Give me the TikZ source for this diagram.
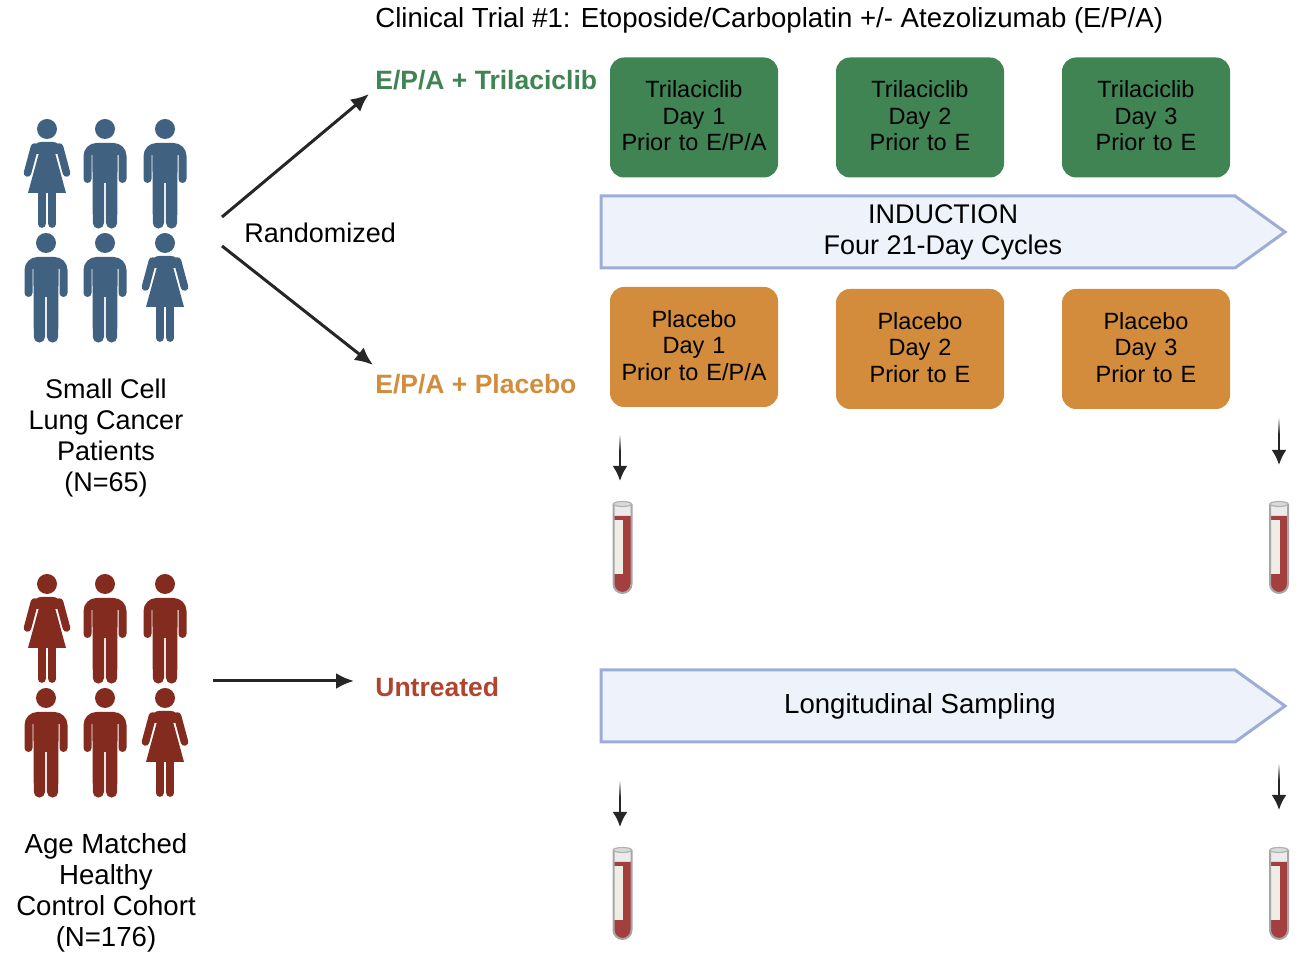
\documentclass[tikz,border=0pt]{standalone}
\usepackage{fontspec}
\setmainfont{Liberation Sans}
\usetikzlibrary{arrows.meta}
\definecolor{trilagreen}{HTML}{408454}
\definecolor{placeboorange}{HTML}{D28C3B}
\definecolor{patientblue}{HTML}{416180}
\definecolor{healthyred}{HTML}{832B1E}
\definecolor{untreatedred}{HTML}{B0442F}
\definecolor{phasefill}{HTML}{EEF3FB}
\definecolor{phaseline}{HTML}{9DADD6}
\definecolor{blooddark}{HTML}{A3403F}
\definecolor{tubelabel}{HTML}{EEEEE6}
\tikzset{
  trialbox/.style={rounded corners=7pt,minimum width=84pt,minimum height=60pt,
    text width=82pt,align=center,font=\fontsize{11.75}{13.25}\selectfont,inner sep=0pt,
    execute at end node={\par\vspace{1.5pt}}},
  greenbox/.style={trialbox,fill=trilagreen},
  orangebox/.style={trialbox,fill=placeboorange},
  phase/.style={draw=phaseline,fill=phasefill,line width=1.5pt},
  plain/.style={align=center,inner sep=0pt,font=\fontsize{13.5}{15.5}\selectfont},
  widetext/.style={align=center,inner sep=0pt,font=\fontsize{13.8}{15.5}\selectfont},
  armlabel/.style={anchor=west,inner sep=0pt,font=\fontsize{13.25}{15.5}\selectfont\bfseries},
  thinarrow/.style={-{Latex[length=9pt,width=8pt]},line width=1.5pt,draw=black!85},
  downarrow/.style={-{Latex[length=7.5pt,width=7.5pt]},line width=1.3pt,draw=black!85},
  pics/fadestem/.style={code={
    \shade[top color=white,bottom color=black!85] (-0.75,1) rectangle (0.75,-16);
    \fill[white] (-1.5,1) rectangle (1.5,2);
  }},
  pics/malefig/.style={code={
    \fill[#1] (0,0) circle [radius=10];
    \fill[#1] (-21.5,-27) arc [start angle=180,end angle=90,radius=13] -- (8.5,-14)
      arc [start angle=90,end angle=0,radius=13] -- (21.5,-50)
      arc [start angle=0,end angle=-180,radius=4] -- (13.5,-26) -- (12.6,-26) -- (12.2,-94)
      arc [start angle=0,end angle=-180,radius=5.6] -- (0.8,-54) -- (-0.8,-54) -- (-1,-94)
      arc [start angle=0,end angle=-180,radius=5.6] -- (-12.6,-26) -- (-13.5,-26) -- (-13.5,-50)
      arc [start angle=0,end angle=-180,radius=4] -- cycle;
  }},
  pics/femalefig/.style={code={
    \fill[#1] (0,0) circle [radius=10];
    \fill[#1,rounded corners=3pt] (-15.5,-25) -- (-12,-13) -- (12,-13) -- (15.5,-25) -- cycle;
    \fill[#1] (-19,-64) -- (-7.5,-22) -- (7.5,-22) -- (19,-64) -- cycle;
    \fill[#1] (-9,-64) rectangle (-1.2,-95);
    \fill[#1] (1.2,-64) rectangle (9,-95);
    \fill[#1] (-5.1,-95) circle [radius=3.9];
    \fill[#1] (5.1,-95) circle [radius=3.9];
    \draw[#1,line width=3.8pt,line cap=round] (-12.5,-18) -- (-19.5,-44);
    \draw[#1,line width=3.8pt,line cap=round] (12.5,-18) -- (19.5,-44);
  }},
  pics/bloodtube/.style={code={
    \fill[black!8] (-9,-3) rectangle (9,-16);
    \fill[blooddark] (-8.5,-15) -- (-8.5,-83) arc [start angle=180,end angle=360,radius=8.5] -- (8.5,-15) -- cycle;
    \fill[tubelabel] (-9,-19) rectangle (0.5,-73);
    \draw[black!35,line width=1pt] (-9,-3) -- (-9,-83) arc [start angle=180,end angle=360,radius=9] -- (9,-3);
    \fill[black!15,draw=black!30,line width=0.6pt] (0,-3) ellipse [x radius=9,y radius=2.5];
  }}
}
\begin{document}
\begin{tikzpicture}[x=0.5pt,y=0.5pt]
  \useasboundingbox (0,0) rectangle (1312,956);

  % title and arm labels
  \node[widetext,anchor=west] (title) at (375,935.5) {Clinical Trial \#1: Etoposide/Carboplatin +/- Atezolizumab (E/P/A)};
  \node[armlabel,text=trilagreen] (armtrila) at (375,875.5) {E/P/A + Trilaciclib};
  \node[armlabel,text=placeboorange] (armplacebo) at (375,571.5) {E/P/A + Placebo};
  \node[armlabel,text=untreatedred] (armuntreated) at (375,268.5) {Untreated};
  \node[plain,anchor=west] (randomized) at (244,723) {Randomized};

  % patient figures
  \pic at (47,827) {femalefig=patientblue};
  \pic at (105,827) {malefig=patientblue};
  \pic at (165,827) {malefig=patientblue};
  \pic at (46,713) {malefig=patientblue};
  \pic at (105,713) {malefig=patientblue};
  \pic at (165,713) {femalefig=patientblue};
  \node[plain] (patients) at (106,518) {Small Cell\\Lung Cancer\\Patients\\(N=65)};

  % control figures
  \pic at (47,372) {femalefig=healthyred};
  \pic at (105,372) {malefig=healthyred};
  \pic at (165,372) {malefig=healthyred};
  \pic at (46,258) {malefig=healthyred};
  \pic at (105,258) {malefig=healthyred};
  \pic at (165,258) {femalefig=healthyred};
  \node[widetext] (controls) at (106,63) {Age Matched\\Healthy\\Control Cohort\\(N=176)};

  % randomization arrows
  \coordinate (splitup) at (222,739);
  \coordinate (splitupend) at (369,862);
  \coordinate (splitdown) at (222,710);
  \coordinate (splitdownend) at (373,591);
  \coordinate (ctrlstart) at (213,275);
  \coordinate (ctrlend) at (354,275);
  \draw[thinarrow] (splitup) -- (splitupend);
  \draw[thinarrow] (splitdown) -- (splitdownend);
  \draw[thinarrow] (ctrlstart) -- (ctrlend);

  % dosing boxes
  \node[greenbox] (trilaone) at (694,838.5) {Trilaciclib\\Day 1\\Prior to E/P/A};
  \node[greenbox] (trilatwo) at (920,838.5) {Trilaciclib\\Day 2\\Prior to E};
  \node[greenbox] (trilathree) at (1146,838.5) {Trilaciclib\\Day 3\\Prior to E};
  \node[orangebox] (placeboone) at (694,609) {Placebo\\Day 1\\Prior to E/P/A};
  \node[orangebox] (placebotwo) at (920,607) {Placebo\\Day 2\\Prior to E};
  \node[orangebox] (placebothree) at (1146,607) {Placebo\\Day 3\\Prior to E};

  % phase arrows
  \draw[phase] (601,760) -- (1235,760) -- (1285,724) -- (1235,688) -- (601,688) -- cycle;
  \node[plain] (induction) at (943,724) {INDUCTION\\Four 21-Day Cycles};
  \draw[phase] (601,286) -- (1235,286) -- (1285,250) -- (1235,214) -- (601,214) -- cycle;
  \node[widetext] (sampling) at (920,250) {Longitudinal Sampling};

  % sampling arrows and tubes
  \coordinate (drawa) at (620,521);
  \coordinate (drawaend) at (620,475);
  \coordinate (drawb) at (1279,538);
  \coordinate (drawbend) at (1279,491);
  \coordinate (drawc) at (620,175);
  \coordinate (drawcend) at (620,129);
  \coordinate (drawd) at (1279,192);
  \coordinate (drawdend) at (1279,146);
  \draw[downarrow] (drawa) -- (drawaend);
  \draw[downarrow] (drawb) -- (drawbend);
  \draw[downarrow] (drawc) -- (drawcend);
  \draw[downarrow] (drawd) -- (drawdend);
  \pic at (drawa) {fadestem};
  \pic at (drawb) {fadestem};
  \pic at (drawc) {fadestem};
  \pic at (drawd) {fadestem};
  \pic at (622.5,455) {bloodtube};
  \pic at (1279,455) {bloodtube};
  \pic at (622.5,109) {bloodtube};
  \pic at (1279,109) {bloodtube};
\end{tikzpicture}
\end{document}
